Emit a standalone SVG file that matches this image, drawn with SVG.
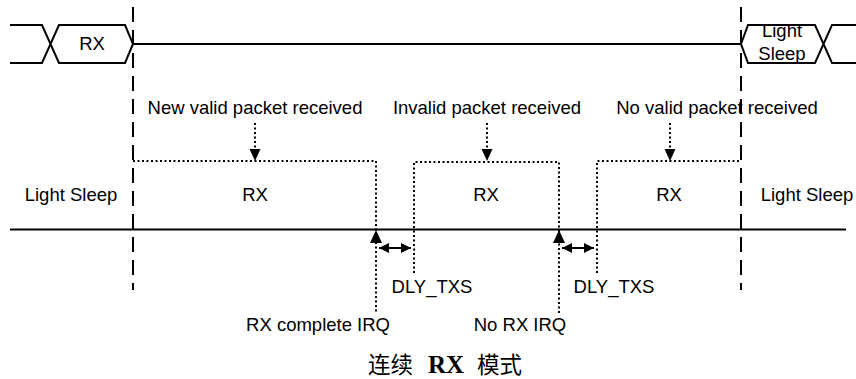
<svg xmlns="http://www.w3.org/2000/svg" width="856" height="379" viewBox="0 0 856 379">
<style>
.t{font-family:"Liberation Sans",Arial,sans-serif;font-size:18.5px;fill:#000;text-anchor:middle}
.s{stroke:#000;stroke-width:2;fill:none}
.d{stroke:#000;stroke-width:2;fill:none;stroke-dasharray:15 8}
.o{stroke:#000;stroke-width:2;fill:none;stroke-dasharray:2 2.5}
.cap{font-family:"Liberation Serif","Noto Sans CJK SC",serif;font-size:22.5px;fill:#000}
</style>
<defs>
<marker id="ah" viewBox="0 0 10 10" refX="10" refY="5" markerWidth="10" markerHeight="10" markerUnits="userSpaceOnUse" orient="auto">
<path d="M0,0L10,5L0,10Z" fill="#000"/>
</marker>
<marker id="ahs" viewBox="0 0 10 10" refX="10" refY="5" markerWidth="10" markerHeight="10" markerUnits="userSpaceOnUse" orient="auto-start-reverse">
<path d="M0,0L10,5L0,10Z" fill="#000"/>
</marker>
</defs>
<g id="bus">
<path class="s" d="M10,25H42L59,63H125L133,44L125,25H59L42,63H10"/>
<path class="s" d="M133,44H741"/>
<path class="s" d="M856,25H832L815,63H748L741,44L748,25H815L832,63H856"/>
<text class="t" x="92" y="50">RX</text>
<text class="t" x="782" y="37">Light</text>
<text class="t" x="782" y="60">Sleep</text>
</g>
<g id="timeline">
<path class="s" d="M10,229.5H846"/>
<path class="d" d="M133,7V290"/>
<path class="d" d="M741,7V290"/>
</g>
<g id="rx1">
<path class="o" d="M133,161H376V313"/>
<text class="t" x="255" y="201">RX</text>
</g>
<g id="rx2">
<path class="o" d="M414,273V162H559V313"/>
<text class="t" x="486" y="201">RX</text>
</g>
<g id="rx3">
<path class="o" d="M597,273V161H741"/>
<text class="t" x="669" y="201">RX</text>
</g>
<g id="sleepL"><text class="t" x="71" y="201">Light Sleep</text></g>
<g id="sleepR"><text class="t" x="807" y="201">Light Sleep</text></g>
<g id="labels">
<text class="t" x="255" y="114">New valid packet received</text>
<text class="t" x="487" y="114">Invalid packet received</text>
<text class="t" x="717" y="114">No valid packet received</text>
<text class="t" x="432" y="293">DLY_TXS</text>
<text class="t" x="614" y="293">DLY_TXS</text>
<text class="t" x="390" y="331" style="text-anchor:end">RX complete IRQ</text>
<text class="t" x="520" y="331">No RX IRQ</text>
</g>
<g id="connectors">
<path class="o" d="M255,123V150"/>
<path d="M249.5,149H260.5L255,161Z"/>
<path class="o" d="M487,123V150"/>
<path d="M481.5,149H492.5L487,161Z"/>
<path class="o" d="M670,123V150"/>
<path d="M664.5,149H675.5L670,161Z"/>
<path d="M370,243H382L376,230Z"/>
<path d="M553,243H565L559,230Z"/>
<path class="s" d="M379,248H411" marker-start="url(#ahs)" marker-end="url(#ah)"/>
<path class="s" d="M562,248H594" marker-start="url(#ahs)" marker-end="url(#ah)"/>
</g>
<g id="caption">
<text class="cap" y="373"><tspan x="368">连续</tspan><tspan x="428" font-weight="bold" font-size="25">RX</tspan><tspan x="477">模式</tspan></text>
</g>
</svg>
